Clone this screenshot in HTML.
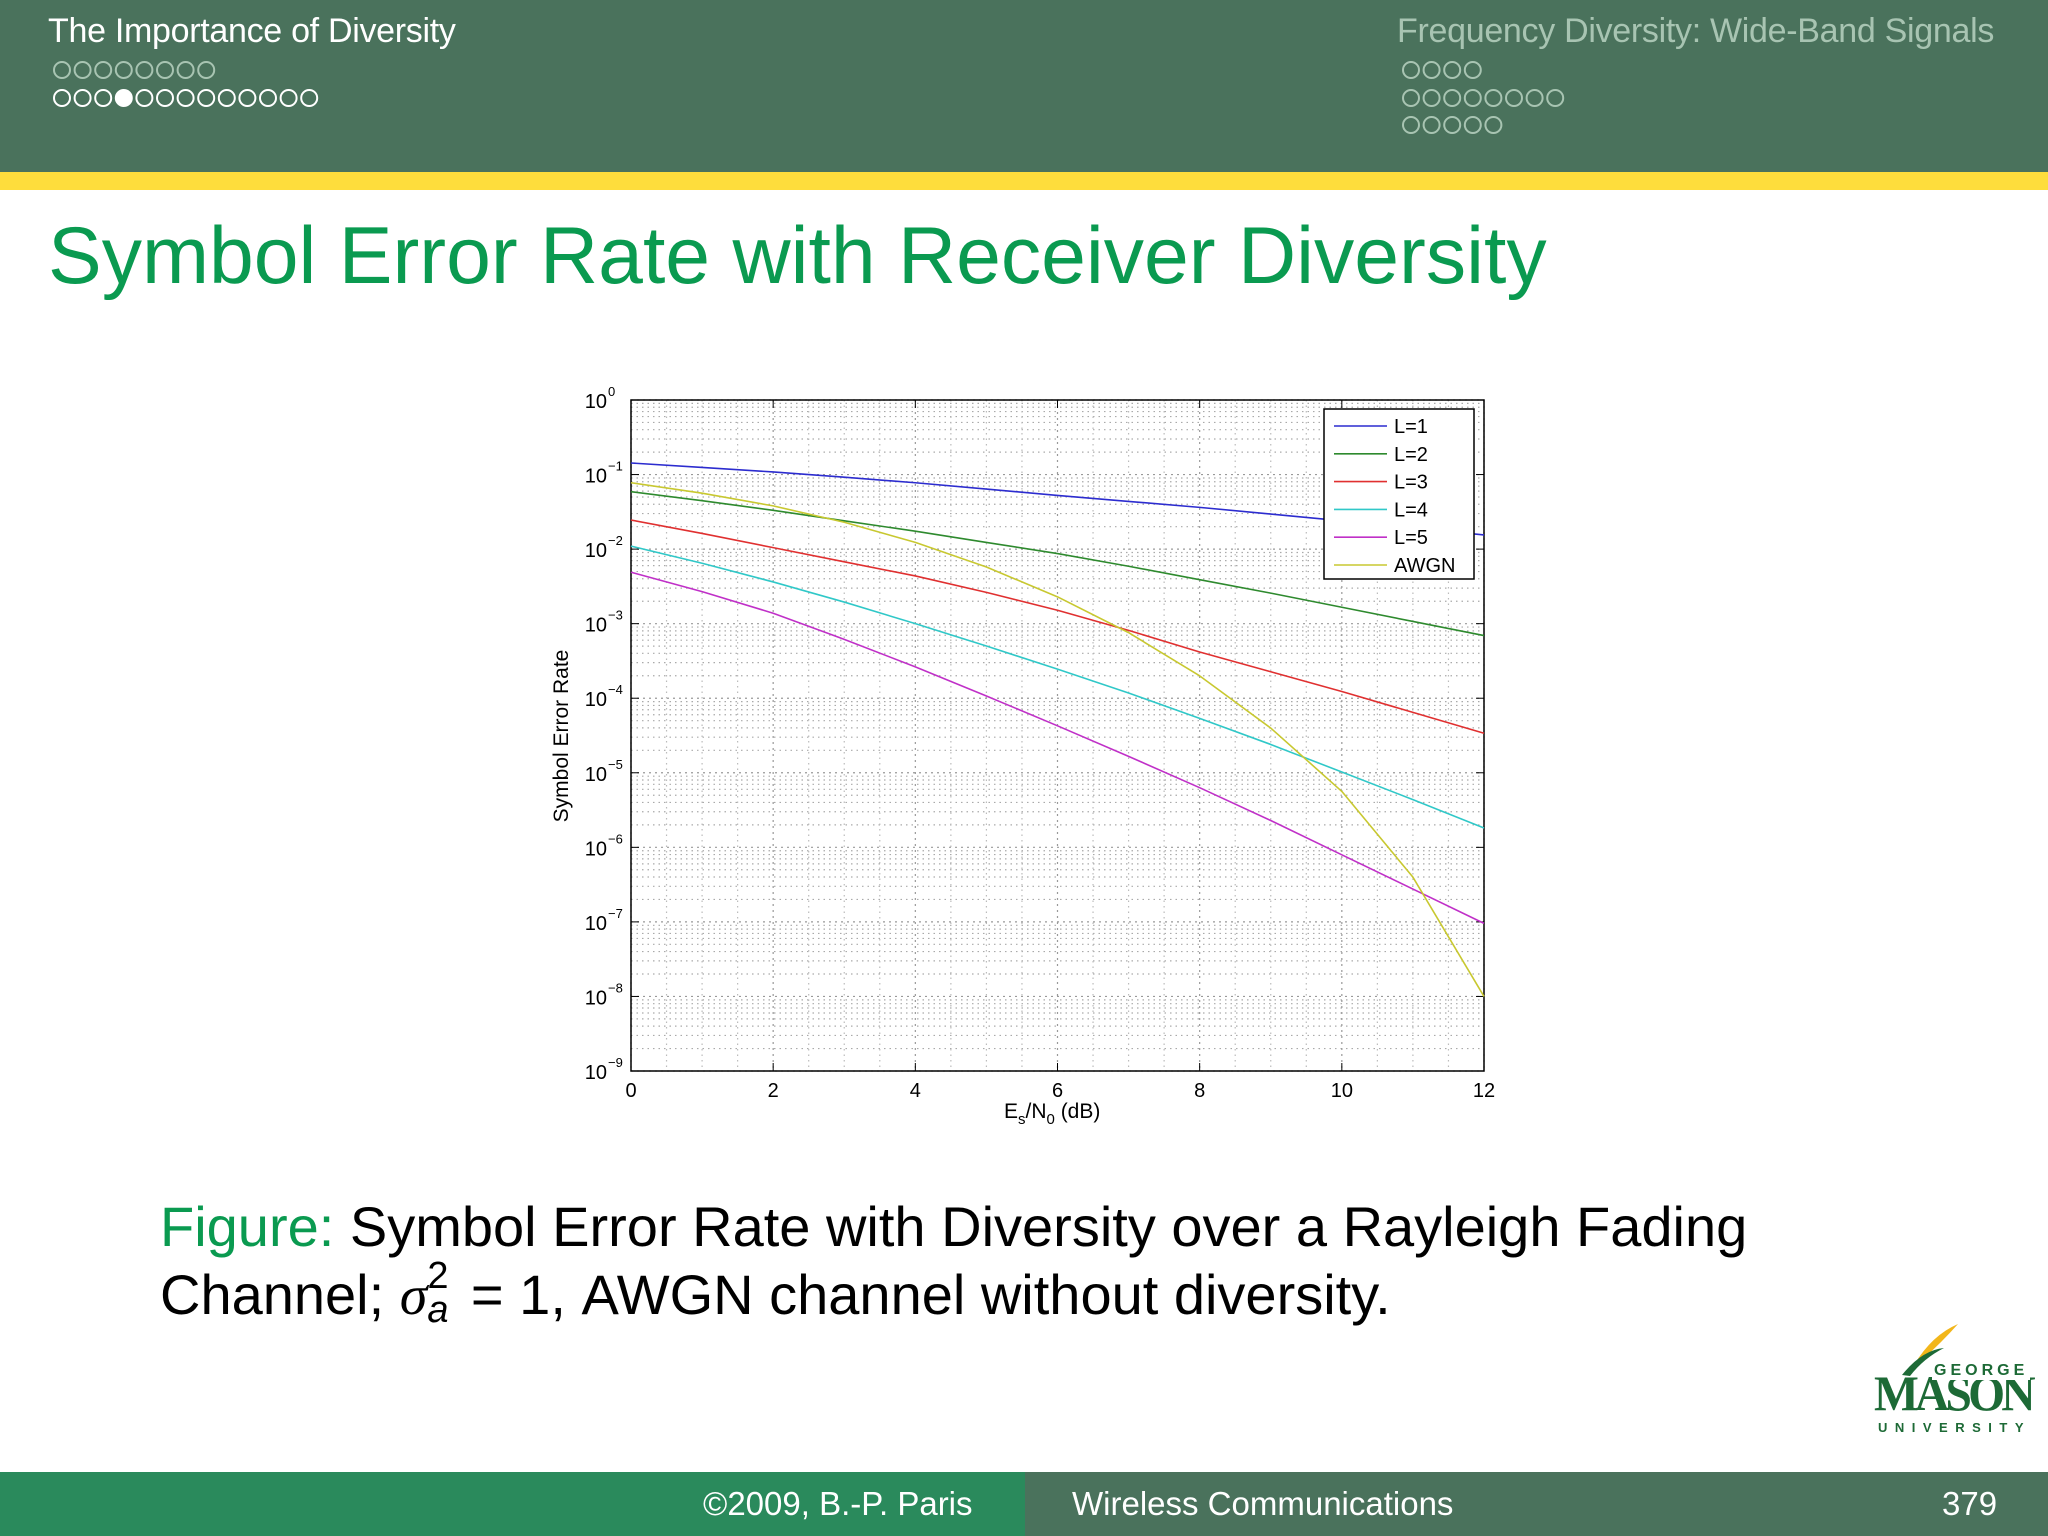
<!DOCTYPE html>
<html><head><meta charset="utf-8"><style>
body{margin:0;width:2048px;height:1536px;position:relative;background:#fff;font-family:"Liberation Sans",sans-serif;overflow:hidden}
.a{position:absolute;white-space:nowrap}
</style></head><body>
<div class="a" style="left:0;top:0;width:2048px;height:172px;background:#4a725c"></div>
<div class="a" style="left:0;top:172px;width:2048px;height:18px;background:#fedd3c"></div>
<div class="a" style="left:48px;top:12px;font-size:34px;color:#fff;letter-spacing:-0.3px">The Importance of Diversity</div>
<div class="a" style="left:1397px;top:12px;font-size:34px;color:#a8c4b2;letter-spacing:-0.3px">Frequency Diversity: Wide-Band Signals</div>
<svg class="a" style="left:0;top:0" width="2048" height="172" id="dots"></svg>
<div class="a" style="left:48px;top:210px;font-size:80.5px;color:#0a9a50">Symbol Error Rate with Receiver Diversity</div>

<svg class="a" style="left:0;top:0" width="2048" height="1536" id="chart" font-family="Liberation Sans, sans-serif"></svg>

<div class="a" style="left:160px;top:1193px;font-size:56px;line-height:68px;color:#000"><span style="color:#0a9a50">Figure:</span> Symbol Error Rate with Diversity over a Rayleigh Fading<br>Channel; <i style="font-family:'Liberation Serif',serif">σ</i><span style="position:relative;display:inline-block;width:28px;height:10px"><span style="position:absolute;left:0;top:-62px;font-size:38px">2</span><i style="position:absolute;left:0;top:-28px;font-size:38px">a</i></span> = 1, AWGN channel without diversity.</div>

<div class="a" style="left:1872px;top:1320px;width:160px;height:116px">
<svg width="160" height="116" style="position:absolute;left:0;top:0"><path d="M42 45 Q60 15 86 4 Q70 22 50 40Z" fill="#f2b61a"/><path d="M30 55 Q50 30 72 28 Q52 38 38 56Z" fill="#1d6a36"/></svg>
<div class="a" style="left:2px;top:44px;font-family:'Liberation Serif',serif;font-weight:bold;font-size:50px;color:#1d6a36;letter-spacing:-4px;transform:scaleX(0.95);transform-origin:left">MASON</div>
<div class="a" style="left:60px;top:42px;font-weight:bold;font-size:16px;color:#1d6a36;letter-spacing:4px;background:#fff;padding:0 2px">GEORGE</div>
<div class="a" style="left:6px;top:100px;font-weight:bold;font-size:13px;color:#1d6a36;letter-spacing:7.5px">UNIVERSITY</div>
</div>

<div class="a" style="left:0;top:1472px;width:1025px;height:64px;background:#2a8a5c"></div>
<div class="a" style="left:1025px;top:1472px;width:1023px;height:64px;background:#4a725c"></div>
<div class="a" style="left:703px;top:1485px;font-size:33px;color:#fff">©2009, B.-P. Paris</div>
<div class="a" style="left:1072px;top:1485px;font-size:33px;color:#fff">Wireless Communications</div>
<div class="a" style="left:1942px;top:1485px;font-size:33px;color:#fff">379</div>

<script>
const dsv=document.getElementById('dots');
function dotRow(x0,y,n,filled,col){for(let i=0;i<n;i++){const c=document.createElementNS('http://www.w3.org/2000/svg','circle');
c.setAttribute('cx',x0+i*20.6);c.setAttribute('cy',y);c.setAttribute('r',8);
c.setAttribute('fill',i===filled?col:'none');c.setAttribute('stroke',col);c.setAttribute('stroke-width',2);


dsv.appendChild(c);}}
dotRow(62,70,8,-1,'#a8c4b2');dotRow(62,98,13,3,'#fff');
dotRow(1411,70,4,-1,'#a8c4b2');dotRow(1411,98,8,-1,'#a8c4b2');dotRow(1411,125,5,-1,'#a8c4b2');

const xTicks=[0,2,4,6,8,10,12];
const yDecades=[0,-1,-2,-3,-4,-5,-6,-7,-8,-9];
const seriesNames=["L=1","L=2","L=3","L=4","L=5","AWGN"];
const seriesColors=["#2c2ccf","#2e8a2e","#e03030","#30c8c8","#c030c8","#c8c830"];
const xAll=[0,1,2,3,4,5,6,7,8,9,10,11,12];
const serL1=[-0.845,-0.905,-0.965,-1.035,-1.11,-1.195,-1.28,-1.36,-1.44,-1.53,-1.62,-1.715,-1.81];
const serL2=[-1.23,-1.35,-1.48,-1.62,-1.76,-1.91,-2.06,-2.23,-2.41,-2.59,-2.78,-2.97,-3.16];
const serL3=[-1.61,-1.79,-1.98,-2.17,-2.36,-2.58,-2.82,-3.09,-3.38,-3.645,-3.91,-4.19,-4.47];
const serL4=[-1.96,-2.19,-2.44,-2.71,-3.0,-3.3,-3.61,-3.93,-4.27,-4.62,-4.99,-5.36,-5.74];
const serL5=[-2.31,-2.57,-2.86,-3.21,-3.58,-3.97,-4.37,-4.78,-5.2,-5.64,-6.1,-6.56,-7.02];
const serAWGN=[-1.11,-1.25,-1.42,-1.64,-1.91,-2.24,-2.64,-3.12,-3.7,-4.4,-5.25,-6.4,-8.0];

const L=631,R=1484,T=400,B=1071;
const sx=v=>L+(v-0)/(12-0)*(R-L);
const sy=v=>T+(0-v)/9*(B-T);
const svg=document.getElementById('chart');
const NS='http://www.w3.org/2000/svg';
function mk(t,a){const e=document.createElementNS(NS,t);for(const k in a)e.setAttribute(k,a[k]);svg.appendChild(e);return e;}
for(let d=0;d<9;d++){for(let m=2;m<=9;m++){const y=sy(-d-1+Math.log10(m));
const g=mk('line',{x1:L,x2:R,y1:y,y2:y,stroke:'#aaa','stroke-width':1.2,'stroke-dasharray':'1.5 4'});

}}
for(let i=0;i<=24;i++){const x=sx(i/2);if(i%4==0)continue;
const g=mk('line',{x1:x,x2:x,y1:T,y2:B,stroke:'#bbb','stroke-width':1.2,'stroke-dasharray':'1.5 4'});

}
yDecades.forEach(d=>{const y=sy(d);
const g=mk('line',{x1:L,x2:R,y1:y,y2:y,stroke:'#999','stroke-width':1.2,'stroke-dasharray':'2 4'});


const t=mk('text',{x:L-24,y:y+8,'font-size':20,'text-anchor':'end'});t.textContent='10';


const s=mk('text',{x:L-23,y:y-4,'font-size':13});s.textContent=d==0?'0':'−'+(-d);


mk('line',{x1:L,x2:L+8,y1:y,y2:y,stroke:'#000'});mk('line',{x1:R,x2:R-8,y1:y,y2:y,stroke:'#000'});});
xTicks.forEach(v=>{const x=sx(v);
const g=mk('line',{x1:x,x2:x,y1:T,y2:B,stroke:'#999','stroke-width':1.2,'stroke-dasharray':'2 4'});


const t=mk('text',{x:x,y:B+26,'font-size':20,'text-anchor':'middle'});t.textContent=v;


mk('line',{x1:x,x2:x,y1:B,y2:B-8,stroke:'#000'});mk('line',{x1:x,x2:x,y1:T,y2:T+8,stroke:'#000'});});
const fr=mk('rect',{x:L,y:T,width:R-L,height:B-T,fill:'none',stroke:'#000','stroke-width':1.5});


const xl=mk('text',{x:1004,y:1118,'font-size':21});
xl.innerHTML='E<tspan dy="6" font-size="15">s</tspan><tspan dy="-6">/N</tspan><tspan dy="6" font-size="15">0</tspan><tspan dy="-6"> (dB)</tspan>';


const yl=mk('text',{x:0,y:0,'font-size':21,'text-anchor':'middle',transform:'translate(568,736) rotate(-90)'});yl.textContent='Symbol Error Rate';


const allY=[serL1,serL2,serL3,serL4,serL5,serAWGN];
allY.forEach((ys,i)=>{
const p=mk('polyline',{points:ys.map((v,j)=>sx(xAll[j])+','+sy(v)).join(' '),fill:'none',stroke:seriesColors[i],'stroke-width':1.6,'stroke-linejoin':'round'});

});
const lg=mk('rect',{x:1324,y:409,width:150,height:170,fill:'#fff',stroke:'#000','stroke-width':1.5});


seriesNames.forEach((n,i)=>{const y=426+i*27.8;
mk('line',{x1:1334,x2:1387,y1:y,y2:y,stroke:seriesColors[i],'stroke-width':1.6});
const t=mk('text',{x:1394,y:y+7,'font-size':20});t.textContent=n;

});
</script>
</body></html>
